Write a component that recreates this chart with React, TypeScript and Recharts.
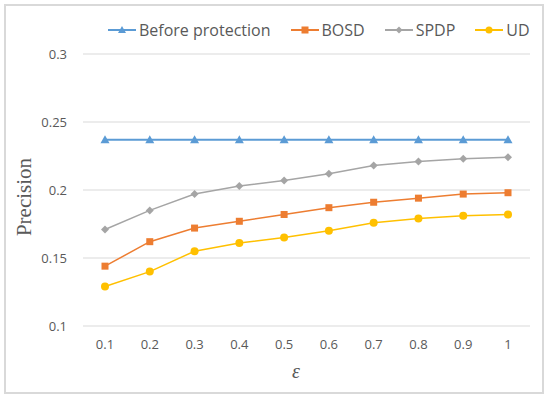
import React from "react";
import { LineChart, Line, XAxis, YAxis, CartesianGrid } from "recharts";

const epsilons = ["0.1", "0.2", "0.3", "0.4", "0.5", "0.6", "0.7", "0.8", "0.9", "1"];
const beforeProtection = [0.237, 0.237, 0.237, 0.237, 0.237, 0.237, 0.237, 0.237, 0.237, 0.237];
const bosd = [0.144, 0.162, 0.172, 0.177, 0.182, 0.187, 0.191, 0.194, 0.197, 0.198];
const spdp = [0.171, 0.185, 0.197, 0.203, 0.207, 0.212, 0.218, 0.221, 0.223, 0.224];
const ud = [0.129, 0.14, 0.155, 0.161, 0.165, 0.17, 0.176, 0.179, 0.181, 0.182];
const yTicks = [0.1, 0.15, 0.2, 0.25, 0.3];

const data = epsilons.map((e, i) => ({
  eps: e,
  before: beforeProtection[i],
  bosd: bosd[i],
  spdp: spdp[i],
  ud: ud[i],
}));

const BLUE = "#5B9BD5";
const ORANGE = "#ED7D31";
const GRAY = "#A5A5A5";
const YELLOW = "#FFC000";
const TEXT = "#595959";

const Triangle = (props: any) => {
  const { cx, cy } = props;
  return <path key={props.index} d={`M${cx},${cy - 4.5}L${cx + 4.5},${cy + 3.5}L${cx - 4.5},${cy + 3.5}Z`} fill={BLUE} />;
};
const Square = (props: any) => {
  const { cx, cy } = props;
  return <rect key={props.index} x={cx - 3.5} y={cy - 3.5} width={7} height={7} fill={ORANGE} />;
};
const Diamond = (props: any) => {
  const { cx, cy } = props;
  return <path key={props.index} d={`M${cx},${cy - 4}L${cx + 4},${cy}L${cx},${cy + 4}L${cx - 4},${cy}Z`} fill={GRAY} />;
};
const Circle = (props: any) => {
  const { cx, cy } = props;
  return <circle key={props.index} cx={cx} cy={cy} r={4} fill={YELLOW} />;
};

const legendItems = [
  { label: "Before protection", color: BLUE, marker: "tri" },
  { label: "BOSD", color: ORANGE, marker: "sq" },
  { label: "SPDP", color: GRAY, marker: "dia" },
  { label: "UD", color: YELLOW, marker: "circ" },
];

const LegendMarker = ({ color, marker }: { color: string; marker: string }) => (
  <svg width={28} height={12} style={{ marginRight: 3 }}>
    <line x1={0} y1={6} x2={28} y2={6} stroke={color} strokeWidth={2} />
    {marker === "tri" && <path d="M14,2L18,9L10,9Z" fill={color} />}
    {marker === "sq" && <rect x={10.5} y={2.5} width={7} height={7} fill={color} />}
    {marker === "dia" && <path d="M14,2.5L17.5,6L14,9.5L10.5,6Z" fill={color} />}
    {marker === "circ" && <circle cx={14} cy={6} r={3.5} fill={color} />}
  </svg>
);

export default function App() {
  return (
    <div style={{ position: "absolute", left: 0, top: 0, width: 550, height: 399, background: "#fff" }}>
      <div
        style={{
          position: "absolute",
          left: 4,
          top: 4,
          width: 536,
          height: 386,
          border: "2px solid #D9D9D9",
        }}
      />
      <div
        style={{
          position: "absolute",
          left: 108,
          top: 19,
          display: "flex",
          fontFamily: "'Open Sans', sans-serif",
          fontSize: 16,
          color: TEXT,
        }}
      >
        {legendItems.map((it) => (
          <div key={it.label} style={{ display: "flex", alignItems: "center", marginRight: 20 }}>
            <LegendMarker color={it.color} marker={it.marker} />
            <span>{it.label}</span>
          </div>
        ))}
      </div>
      <div style={{ position: "absolute", left: 0, top: 0 }}>
        <LineChart width={550} height={399} data={data} margin={{ top: 54, right: 20, bottom: 43, left: 0 }}>
          <CartesianGrid vertical={false} stroke="#D9D9D9" strokeWidth={1} />
          <XAxis
            dataKey="eps"
            height={30}
            axisLine={false}
            tickLine={false}
            padding={{ left: 22, right: 22 }}
            tick={{ fill: TEXT, fontSize: 13, fontFamily: "'Open Sans', sans-serif" }}
            tickSize={0}
            tickMargin={14}
            interval={0}
          />
          <YAxis
            domain={[0.1, 0.3]}
            ticks={yTicks}
            axisLine={false}
            tickLine={false}
            width={83}
            tickSize={0}
            tickMargin={16}
            tick={{ fill: TEXT, fontSize: 13, fontFamily: "'Open Sans', sans-serif" }}
            tickFormatter={(v: number) => String(v)}
          />
          <Line dataKey="before" stroke={BLUE} strokeWidth={2} dot={Triangle} isAnimationActive={false} />
          <Line dataKey="bosd" stroke={ORANGE} strokeWidth={1.5} dot={Square} isAnimationActive={false} />
          <Line dataKey="spdp" stroke={GRAY} strokeWidth={1.5} dot={Diamond} isAnimationActive={false} />
          <Line dataKey="ud" stroke={YELLOW} strokeWidth={1.5} dot={Circle} isAnimationActive={false} />
        </LineChart>
      </div>
      <div
        style={{
          position: "absolute",
          left: 24,
          top: 197,
          transform: "translate(-50%, -50%) rotate(-90deg)",
          fontFamily: "'Liberation Serif', 'Times New Roman', serif",
          fontSize: 21,
          color: TEXT,
          whiteSpace: "nowrap",
        }}
      >
        Precision
      </div>
      <div
        style={{
          position: "absolute",
          left: 296,
          top: 371,
          transform: "translate(-50%, -50%)",
          fontFamily: "'Liberation Serif', 'Times New Roman', serif",
          fontStyle: "italic",
          fontSize: 20,
          color: TEXT,
        }}
      >
        ε
      </div>
    </div>
  );
}
